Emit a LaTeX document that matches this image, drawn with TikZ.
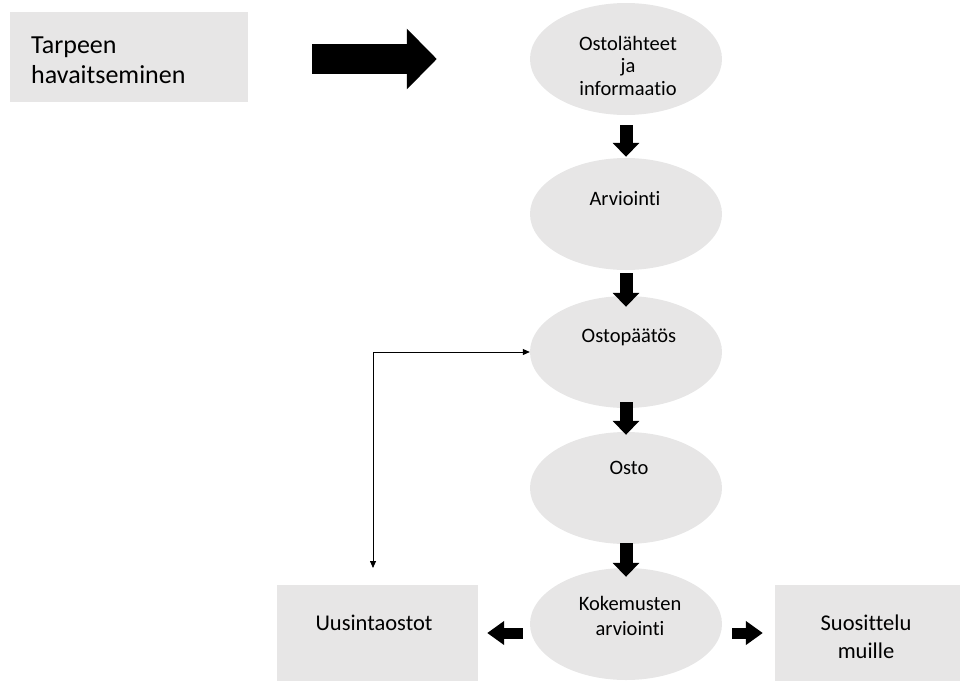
\documentclass[tikz,border=0pt]{standalone}
\usepackage{fontspec}
\setmainfont{Carlito}[Ligatures=NoCommon]
\usetikzlibrary{arrows.meta,calc,shapes.geometric}
\definecolor{boxgray}{HTML}{E7E6E6}
\begin{document}
\begin{tikzpicture}[x=1pt,y=-1pt,
  greybox/.style={fill=boxgray,draw=none,rectangle,inner sep=0pt},
  stage/.style={fill=boxgray,draw=none,ellipse,inner sep=0pt,
    minimum width=192pt,minimum height=112pt},
  stagetext/.style={inner sep=0pt,anchor=base,align=center,
    font=\fontsize{20.5}{22.5}\selectfont},
  boxtext/.style={inner sep=0pt,anchor=base,align=center,
    font=\fontsize{22.5}{28}\selectfont},
  downarrow/.style={line width=13pt,-{Triangle[width=26pt,length=14pt]}},
  sidearrow/.style={line width=11pt,-{Triangle[width=23pt,length=17pt]}},
  bigarrow/.style={line width=30pt,-{Triangle[width=59pt,length=30pt]}},
  loopline/.style={line width=0.8pt,
    {Triangle[width=6pt,length=7pt]}-{Triangle[width=6pt,length=7pt]}}
]
\useasboundingbox (0,0) rectangle (966,681);

% boxes
\node[greybox,minimum width=238pt,minimum height=90pt] (tarp) at (129,57) {};
\node[greybox,minimum width=201pt,minimum height=96pt] (uus) at (377.5,633) {};
\node[greybox,minimum width=185pt,minimum height=96pt] (suo) at (867.5,633) {};

% stages of the buying process
\node[stage] (e1) at (626,59) {};
\node[stage] (e2) at (626,214) {};
\node[stage] (e3) at (626,352) {};
\node[stage] (e4) at (626,488) {};
\node[stage] (e5) at (626,624) {};

% labels (a multi-line node's base is its last line)
\node[inner sep=0pt,anchor=base west,align=left,
  font=\fontsize{26}{30}\selectfont] (tarptxt) at (31,83) {Tarpeen\\havaitseminen};
\node[stagetext] (t1) at (628,95) {Ostolähteet\\ja\\informaatio};
\node[stagetext] (t2) at (625,205) {Arviointi};
\node[stagetext] (t3) at (629,342) {Ostopäätös};
\node[stagetext] (t4) at (629,474) {Osto};
\node[stagetext,font=\fontsize{20.5}{25}\selectfont] (t5) at (630,635) {Kokemusten\\arviointi};
\node[boxtext] (uustxt) at (374,630) {Uusintaostot};
\node[boxtext] (suotxt) at (866,658) {Suosittelu\\muille};

% block arrows
\draw[bigarrow,shorten <=64pt,shorten >=93pt] (tarp.east |- e1.west) -- (e1.west);
\draw[downarrow,shorten <=10pt,shorten >=1pt] (e1.south) -- (e2.north);
\draw[downarrow,shorten <=3pt,shorten >=-11pt] (e2.south) -- (e3.north);
\draw[downarrow,shorten <=-6pt,shorten >=-3pt] (e3.south) -- (e4.north);
\draw[downarrow,shorten <=-1pt,shorten >=-9pt] (e4.south) -- (e5.north);
\draw[sidearrow,shorten <=7pt,shorten >=9pt] (e5.west |- uus.east) -- (uus.east);
\draw[sidearrow,shorten <=10pt,shorten >=12pt] (e5.east |- suo.west) -- (suo.west);

% repeat-purchase loop
\coordinate (rep) at (373,568);
\draw[loopline] (rep) |- (e3.west);
\end{tikzpicture}
\end{document}
